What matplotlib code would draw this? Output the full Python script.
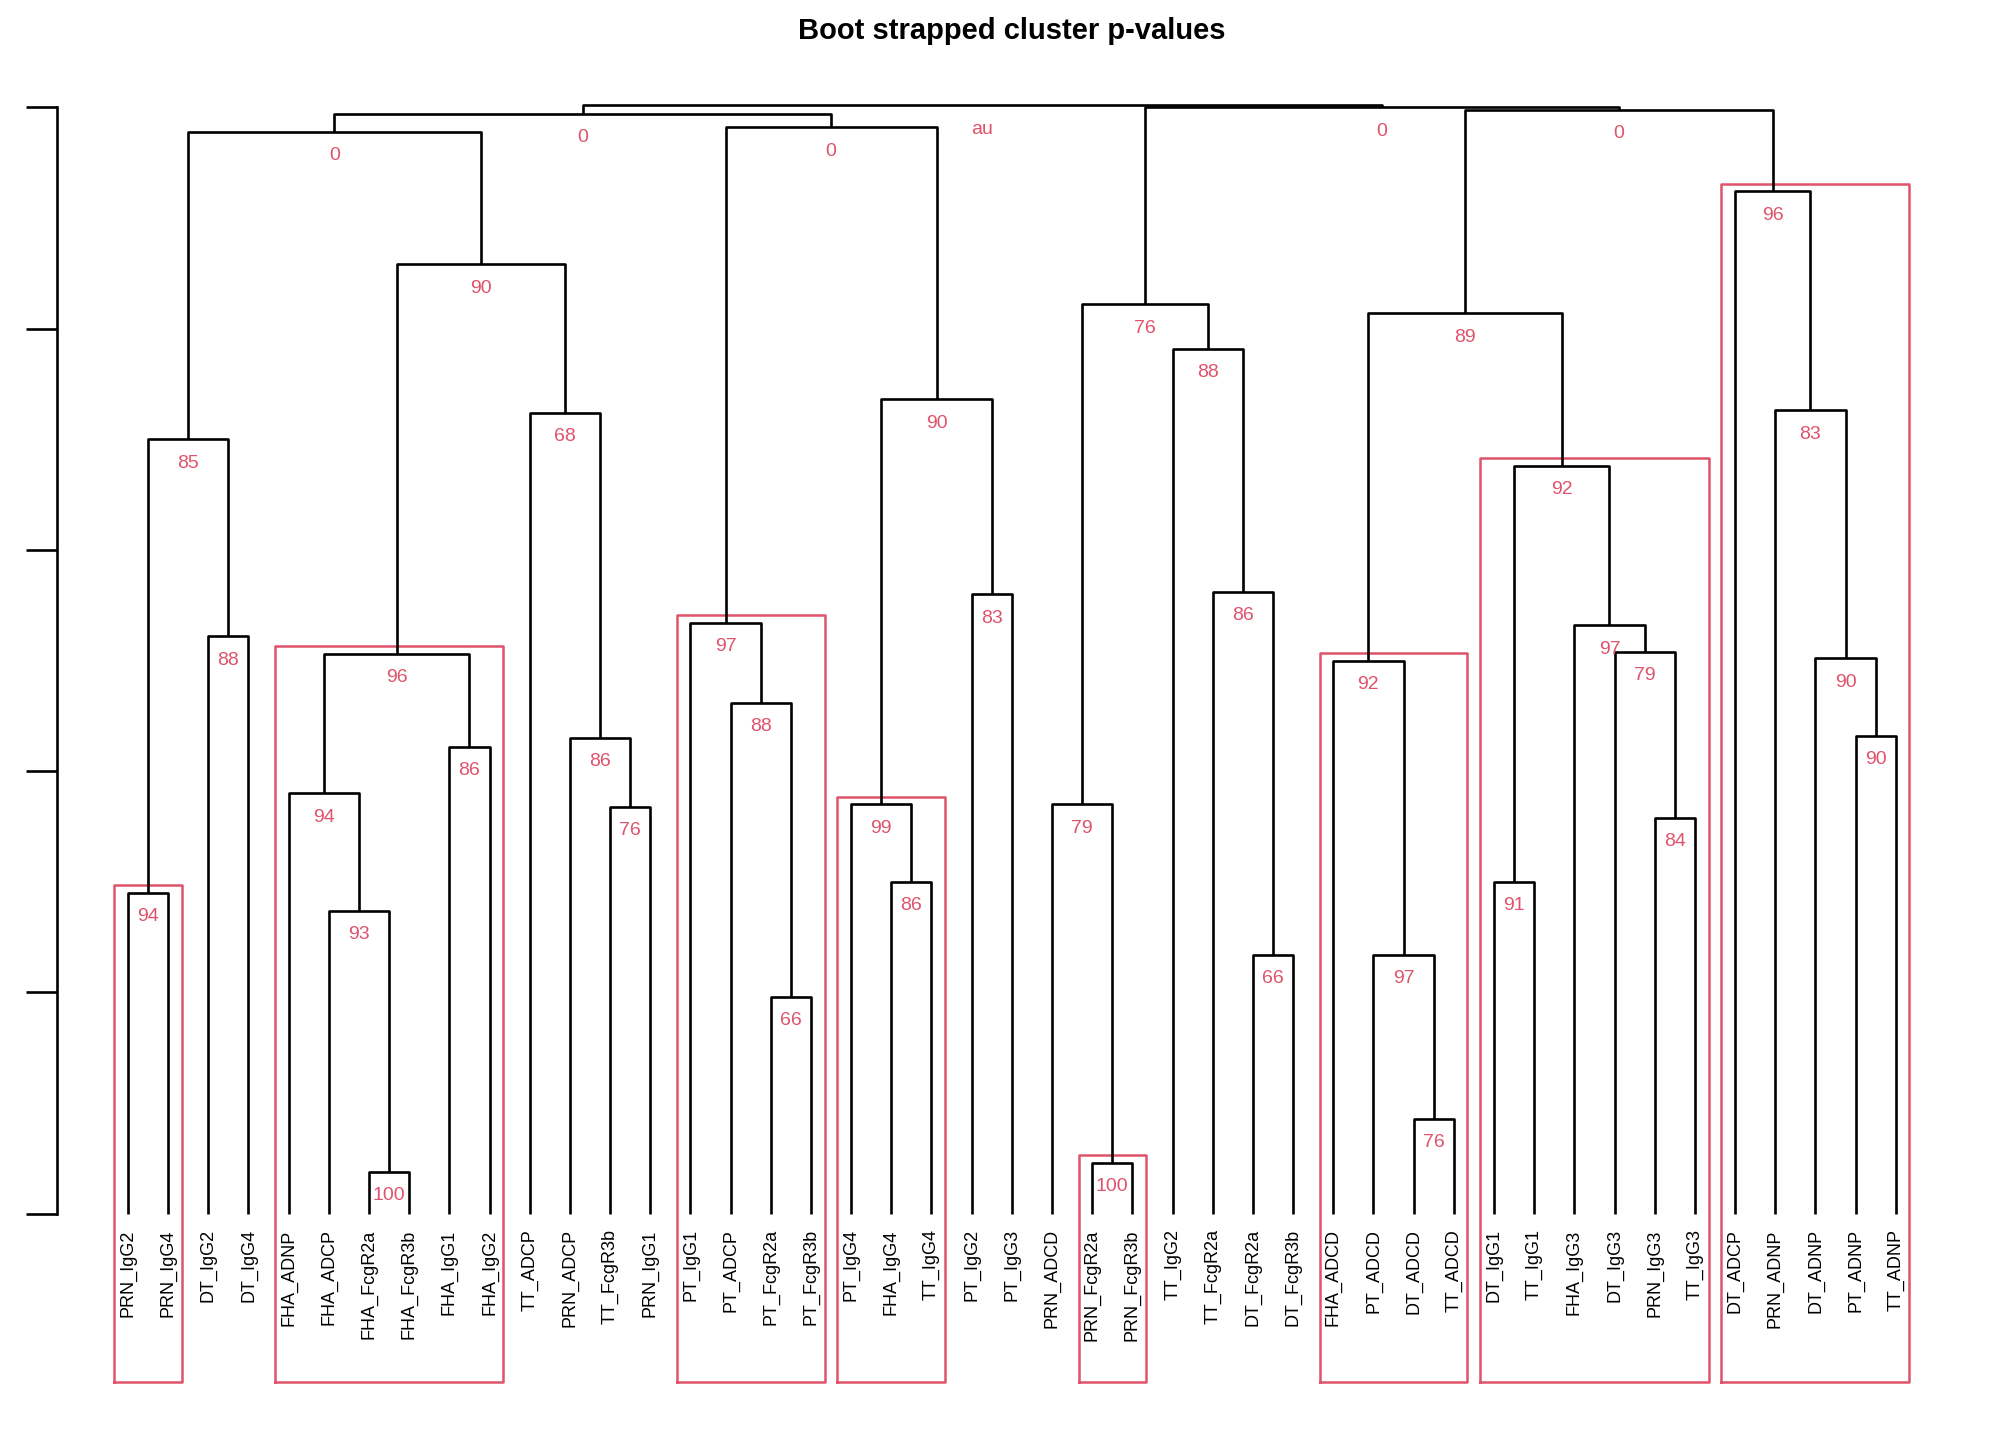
import matplotlib
matplotlib.use("Agg")
import matplotlib.pyplot as plt
plt.rcParams['font.family'] = ['Liberation Sans', 'DejaVu Sans']

leaves = ["PRN_IgG2","PRN_IgG4","DT_IgG2","DT_IgG4","FHA_ADNP","FHA_ADCP","FHA_FcgR2a","FHA_FcgR3b",
          "FHA_IgG1","FHA_IgG2","TT_ADCP","PRN_ADCP","TT_FcgR3b","PRN_IgG1","PT_IgG1","PT_ADCP",
          "PT_FcgR2a","PT_FcgR3b","PT_IgG4","FHA_IgG4","TT_IgG4","PT_IgG2","PT_IgG3","PRN_ADCD",
          "PRN_FcgR2a","PRN_FcgR3b","TT_IgG2","TT_FcgR2a","DT_FcgR2a","DT_FcgR3b","FHA_ADCD","PT_ADCD",
          "DT_ADCD","TT_ADCD","DT_IgG1","TT_IgG1","FHA_IgG3","DT_IgG3","PRN_IgG3","TT_IgG3",
          "DT_ADCP","PRN_ADNP","DT_ADNP","PT_ADNP","TT_ADNP"]

node_names = ["A","B","C","D","E","F","G","H","I","J","K","L","M","N","O","P","Q","R","S","T","U","V",
              "W","X","Y","Z","AA","AB","AC","AD","AE","AF","AG","AH","AI","AJ","AK","AL","AM","AN","AO","AP","AQ","ROOT"]
left_child = ["PRN_IgG2","DT_IgG2","A","FHA_FcgR2a","FHA_ADCP","FHA_ADNP","FHA_IgG1","F","TT_FcgR3b","PRN_ADCP","TT_ADCP","H","C",
              "PT_FcgR2a","PT_ADCP","PT_IgG1","FHA_IgG4","PT_IgG4","PT_IgG2","R","P","M",
              "PRN_FcgR2a","PRN_ADCD","DT_FcgR2a","TT_FcgR2a","TT_IgG2","X","DT_ADCD","PT_ADCD","FHA_ADCD",
              "DT_IgG1","PRN_IgG3","DT_IgG3","FHA_IgG3","AF","AE","PT_ADNP","DT_ADNP","PRN_ADNP","DT_ADCP","AK","AB","V"]
right_child = ["PRN_IgG4","DT_IgG4","B","FHA_FcgR3b","D","E","FHA_IgG2","G","PRN_IgG1","I","J","K","L",
               "PT_FcgR3b","N","O","TT_IgG4","Q","PT_IgG3","S","T","U",
               "PRN_FcgR3b","W","DT_FcgR3b","Y","Z","AA","TT_ADCD","AC","AD",
               "TT_IgG1","TT_IgG3","AG","AH","AI","AJ","TT_ADNP","AL","AM","AN","AO","AP","AQ"]
heights = [1.45,2.61,3.50,0.19,1.37,1.90,2.11,2.53,1.84,2.15,3.62,4.29,4.89,
           0.98,2.31,2.67,1.50,1.85,2.80,3.68,4.91,4.97,
           0.23,1.85,1.17,2.81,3.91,4.11,0.43,1.17,2.50,
           1.50,1.79,2.54,2.66,3.38,4.07,2.16,2.51,3.63,4.62,4.99,5.00,5.01]
au = ["94","88","85","100","93","94","86","96","76","86","68","90","0",
      "66","88","97","86","99","83","90","0","0",
      "100","79","66","86","88","76","76","97","92",
      "91","84","79","97","92","89","90","90","83","96","0","0","au"]
boxed = ["A","H","P","R","W","AE","AJ","AO"]

RED = "#DF536B"
fig = plt.figure(figsize=(20.16, 14.4), dpi=100)
W, Hh = 1560.0, 1114.0
ax = fig.add_axes([20/W, 1-1075/Hh, 1480/W, 1015/Hh])
sp = 31.09
ax.set_xlim(1 + (20-99)/sp, 1 + (1500-99)/sp)
ax.set_ylim((939-1075)/171.2, (939-60)/171.2)

pos = {n: (i+1, 0.0) for i, n in enumerate(leaves)}
members = {n: [i+1] for i, n in enumerate(leaves)}
lw = 1.9
for name, l, r, h, a in zip(node_names, left_child, right_child, heights, au):
    xl, hl = pos[l]; xr, hr = pos[r]
    ax.plot([xl, xl, xr, xr], [hl, h, h, hr], color="black", lw=lw, solid_capstyle="butt")
    x = (xl + xr) / 2
    pos[name] = (x, h)
    members[name] = members[l] + members[r]
    ax.text(x, h - 0.07, a, color=RED, fontsize=14, ha="center", va="top")
    if name in boxed:
        x0 = min(members[name]) - 0.34; x1 = max(members[name]) + 0.34
        y0 = (939-1069)/171.2; y1 = h + 0.035
        ax.plot([x0, x1, x1, x0, x0], [y0, y0, y1, y1, y0], color=RED, lw=1.8)

for i, n in enumerate(leaves):
    ax.text(i+1, -0.07, n, rotation=90, ha="center", va="top", fontsize=13)

for s in ["top", "right", "bottom"]:
    ax.spines[s].set_visible(False)
ax.spines["left"].set_position(("data", 1 + (44-99)/sp))
ax.spines["left"].set_bounds(0, 5)
ax.spines["left"].set_linewidth(1.9)
ax.set_yticks([0, 1, 2, 3, 4, 5])
ax.set_yticklabels([])
ax.tick_params(axis="y", length=22, width=1.9)
ax.set_xticks([])
fig.text(783/W, 1-24/Hh, "Boot strapped cluster p-values", ha="center", va="center",
         fontsize=21, fontweight="bold")
fig.savefig("out.png", dpi=100)
